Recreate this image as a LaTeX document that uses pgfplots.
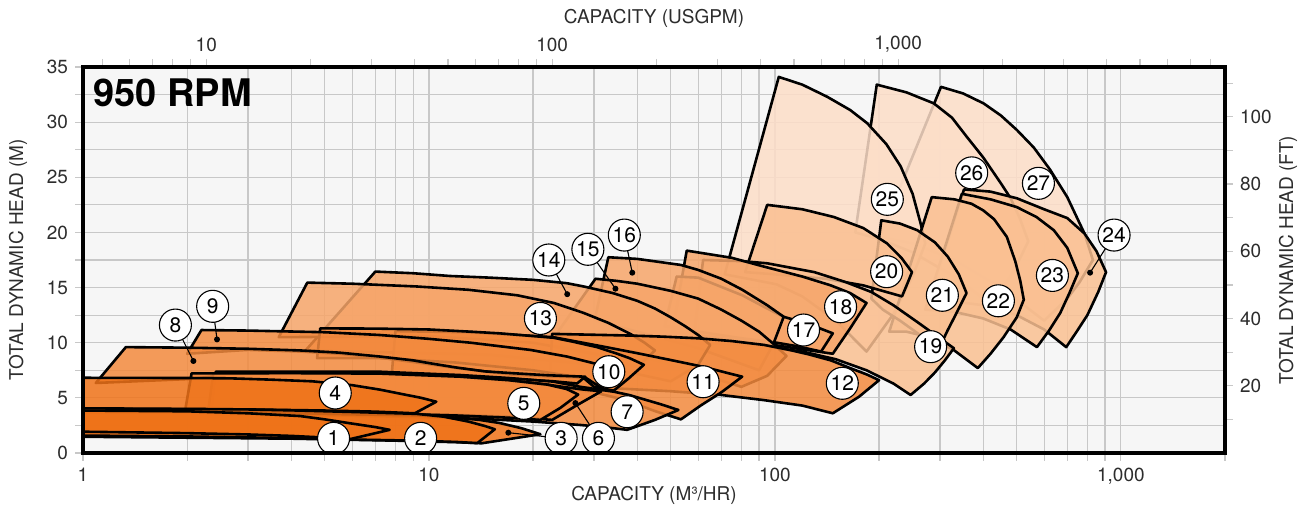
\documentclass[border=0pt]{standalone}
\usepackage{fontspec}
\setmainfont{TeX Gyre Heros}
\usepackage{pgfplots}
\pgfplotsset{compat=1.18}

\definecolor{cdark}{RGB}{239,115,25}
\definecolor{cmed}{RGB}{243,138,62}
\definecolor{clight}{RGB}{246,165,105}
\definecolor{clighter}{RGB}{250,192,146}
\definecolor{clightest}{RGB}{253,222,200}
\definecolor{bgc}{RGB}{246,246,246}
\definecolor{gridc}{RGB}{200,200,200}
\definecolor{txtc}{RGB}{45,45,45}

\begin{document}
\begin{tikzpicture}[
  pump/.style={draw=black, line width=1.3pt, line join=round, fill opacity=0.85},
  lbl/.style={circle, draw=black, line width=0.55pt, fill=white, inner sep=0pt,
    minimum size=16pt, font=\fontsize{10.5}{10.5}\selectfont},
  lead/.style={black, line width=0.55pt, mark=*, mark size=1.2pt, mark indices={2},
    mark options={solid, fill=black}},
]
\begin{axis}[
  name=main,
  scale only axis, width=571pt, height=193pt,
  xmode=log, xmin=1, xmax=2000, ymin=0, ymax=35,
  axis background/.style={fill=bgc},
  xtick={1,10,100,1000}, xticklabels={1,10,100,{1,000}},
  minor xtick={2,3,4,5,6,7,8,9,20,30,40,50,60,70,80,90,200,300,400,500,600,700,800,900,2000},
  ytick={0,5,...,35}, minor ytick={2.5,7.5,...,32.5},
  grid=both,
  major grid style={gridc, line width=0.6pt},
  minor grid style={gridc, line width=0.6pt},
  tick align=outside, xtick pos=left, ytick pos=left,
  major tick length=4pt, minor tick length=4pt,
  tick style={gridc, line width=0.6pt},
  axis line style={line width=1.8pt},
  ticklabel style={font=\fontsize{9.5}{10}\selectfont, text=txtc},
  /pgf/number format/assume math mode=true,
]
% ---- pump ranges, back to front ----
\addplot[pump, fill=clightest] coordinates {(201,19.6) (302,33.2) (350,32.6) (401,31.7) (450,30.6) (500,29.3) (560,27.7) (624,25.7) (700,23.2) (785,19.9) (830,17.5) (760,15.5) (700,14.0) (600,12.0) (450,15.0) (330,17.5) (250,19.0)} -- cycle;
\addplot[pump, fill=clightest] coordinates {(170.7,20) (197,33.4) (240,32.7) (288,31.7) (325,30.4) (358,28.7) (400,26.8) (450,24.45) (480,23.1) (510,21.3) (540,19.2) (510,17.6) (480,16.0) (420,13.5) (330,16.0) (250,18.2) (200,19.4)} -- cycle;
\addplot[pump, fill=clightest] coordinates {(71.6,16.2) (102.6,34.1) (120,33.4) (141.6,32.3) (165,31.1) (184.9,29.9) (210,28.0) (230.8,26.0) (250,23.5) (263.8,20.8) (272,19.0) (250,16.0) (220,12.6) (184,9.2) (150,12.0) (120,14.2) (101,15.3)} -- cycle;
\addplot[pump, fill=clighter] coordinates {(280,14) (352,23.9) (420,23.7) (500,23.1) (600,22.1) (700,21.3) (785,19.9) (850,18.3) (906,16.4) (860,14.6) (800,12.5) (745,11.0) (695,9.6) (600,11.2) (500,12.5) (400,13.4)} -- cycle;
\addplot[pump, fill=clighter] coordinates {(272,13) (347,23.5) (420,23.0) (500,22.3) (570,21.4) (640,20.2) (700,18.6) (751,16.3) (710,14.5) (668,12.7) (620,11.1) (572,9.6) (480,11.2) (400,12.2) (330,12.8)} -- cycle;
\addplot[pump, fill=clighter] coordinates {(214,11) (284,23.2) (330,23.0) (370,22.6) (400,22.0) (430,21.2) (468,19.6) (495,17.4) (512,15.6) (524,13.9) (500,12.3) (458,10.5) (420,9.0) (386,7.7) (330,9.3) (280,10.5) (240,11.0)} -- cycle;
\addplot[pump, fill=clighter] coordinates {(190,14) (203,21.1) (230,20.8) (258,20.2) (290,19.1) (316,17.8) (340,16.2) (358,14.5) (335,12.7) (316,11.15) (295,9.2) (260,10.8) (230,12.0) (205,13.0)} -- cycle;
\addplot[pump, fill=clighter] coordinates {(82,16.4) (95,22.5) (120,22.1) (148,21.4) (180,20.4) (211,19.0) (232,17.7) (249,16.4) (241,15.3) (233,14.2) (210,14.6) (180,15.2) (140,15.8) (100,16.2)} -- cycle;
\addplot[pump, fill=clighter] coordinates {(58,10.0) (62,17.5) (80,17.4) (95,17.2) (130,16.4) (160,15.5) (190,14.6) (220,13.4) (260,11.8) (300,10.4) (329,9.5) (310,8.4) (290,7.3) (270,6.3) (246.7,5.26) (220,6.3) (184,7.5) (150,8.5) (120,9.2) (90,9.7)} -- cycle;
\addplot[pump, fill=clight] coordinates {(50.5,11) (55.6,18.35) (75,17.7) (93,16.9) (120,16.0) (145,15.2) (165,14.5) (184,13.6) (165,11.3) (147,9.0) (120,9.4) (99,9.8) (70,10.4)} -- cycle;
\addplot[pump, fill=clight] coordinates {(48,11.5) (52,16.0) (60,15.9) (80.5,14.3) (95,13.1) (106,12.35) (125,11.7) (147,10.85) (136,9.2) (115,9.7) (99,10.05) (80,10.4) (60,11.0)} -- cycle;
\addplot[pump, fill=clight] coordinates {(30.1,12) (33,17.75) (40,17.6) (53.5,17.05) (60,16.6) (70,15.8) (80.5,14.8) (95,13.4) (106,12.35) (99,9.9) (90,7.5) (60,9.5) (40,11.0)} -- cycle;
\addplot[pump, fill=clight] coordinates {(23.6,11) (30.3,15.8) (35,15.6) (40,15.35) (50,14.7) (60,14.0) (70,13.0) (80,12.0) (90,11.0) (99,9.9) (108,8.8) (95,7.0) (80,6.0) (50,8.0)} -- cycle;
\addplot[pump, fill=clight] coordinates {(4.4,9.3) (7.0,16.45) (9,16.3) (11.5,16.05) (15,15.9) (20,15.7) (25,15.4) (28,15.1) (34,14.5) (40,13.8) (45,13.1) (50,12.3) (55,11.5) (60,10.7) (65,9.8) (60,8.0) (50,6.5) (30,8.0) (15,8.9)} -- cycle;
\addplot[pump, fill=clight] coordinates {(3.68,10.5) (4.45,15.45) (6,15.35) (9.2,15.1) (13,14.8) (18,14.3) (23,13.6) (28,12.7) (33,11.8) (38.2,10.8) (42,10.0) (45,9.3) (40,7.8) (30,9.0) (20,10.0) (10,10.6)} -- cycle;
\addplot[pump, fill=cmed] coordinates {(22.3,6.0) (22.7,10.8) (30,10.72) (38,10.65) (47.5,10.55) (60,10.4) (75,10.15) (93,9.8) (110,9.35) (125,8.95) (145,8.4) (165,7.7) (185,7.1) (200,6.6) (175,5.1) (147,3.6) (120,4.3) (92.6,4.8) (70,5.26) (50,5.6) (35,5.85)} -- cycle;
\addplot[pump, fill=cmed] coordinates {(7.8,7.0) (8.0,11.05) (13.2,10.95) (22.9,10.5) (32,9.64) (40,9.05) (50,8.43) (62,7.82) (72,7.3) (80.4,6.92) (70,5.5) (61,4.3) (53.5,3.05) (45,3.8) (37,4.8) (30,5.5) (20,6.2) (12,6.8)} -- cycle;
\addplot[pump, fill=cmed] coordinates {(4.75,8.6) (4.85,11.3) (7,11.28) (10,11.2) (13.2,11.0) (16,10.85) (22.9,10.45) (26,10.1) (30.6,9.6) (35,9.0) (38,8.6) (41.8,8.0) (37.8,6.77) (34.2,5.65) (30,6.0) (28,6.8) (20,7.5) (12,8.2) (7.2,8.6)} -- cycle;
\addplot[pump, fill=cmed] coordinates {(2.0,9.0) (2.2,11.15) (3,11.1) (5,10.95) (7.2,10.7) (10,10.35) (13.2,10.0) (19.7,9.34) (25,8.75) (30,8.13) (33,7.7) (35.5,7.3) (33.5,6.5) (31.5,5.9) (28.3,6.85) (22,6.95) (17.5,7.1) (12,7.7) (9,8.25) (7.2,8.65) (5.5,9.0) (4.24,9.2) (3,9.35)} -- cycle;
\addplot[pump, fill=cmed] coordinates {(1.089,6.35) (1.33,9.6) (2,9.55) (3,9.45) (4.24,9.3) (5.5,9.1) (7.2,8.75) (9,8.4) (10.1,8.13) (12,7.75) (14.5,7.4) (17.6,7.23) (22,7.05) (28.3,6.92) (26.8,6.3) (22.9,6.5) (12.3,7.0) (7.2,7.25) (3,7.25) (2.0,6.7)} -- cycle;
\addplot[pump, fill=cmed] coordinates {(2.35,3.5) (2.42,7.37) (5,7.38) (7.2,7.37) (12.3,7.07) (17,6.8) (22.9,6.47) (27.4,6.0) (31,5.75) (34.2,5.56) (38,5.25) (42,4.85) (47,4.4) (52.6,3.9) (45,3.0) (37.4,2.1) (32,2.35) (27.4,2.54) (20,2.85) (14,3.1) (8,3.3) (4,3.45)} -- cycle;
\addplot[pump, fill=cmed] coordinates {(2.3,3.75) (2.38,7.22) (5,7.23) (7.2,7.2) (12.3,6.92) (17,6.6) (22,6.2) (25,5.95) (28,5.75) (31.5,5.6) (27,4.4) (22.7,3.0) (18,3.25) (12,3.45) (7,3.6) (4,3.7)} -- cycle;
\addplot[pump, fill=cmed] coordinates {(1.97,3.7) (2.06,7.22) (4,7.24) (7.2,7.2) (12.3,6.92) (17,6.6) (22,6.2) (25,5.8) (27,5.3) (24,4.1) (21,3.0) (17,3.2) (12,3.4) (8,3.55) (5,3.65) (3,3.7)} -- cycle;
\addplot[pump, fill=cdark] coordinates {(0.8,4.0) (0.8,6.82) (1,6.82) (2,6.8) (2.66,6.77) (3.5,6.65) (4.6,6.5) (6,6.15) (7.2,5.75) (8.5,5.3) (9.5,5.0) (10.5,4.65) (9.1,3.6) (7,3.75) (5,3.85) (3,3.95) (1,4.0)} -- cycle;
\addplot[pump, fill=cdark] coordinates {(0.8,1.5) (0.8,3.7) (2,3.68) (4,3.6) (6,3.5) (9.2,3.42) (12,3.2) (14,3.0) (16,2.72) (18.5,2.25) (21,1.7) (14.2,0.88) (12,0.98) (8,1.12) (4,1.3)} -- cycle;
\addplot[pump, fill=cdark] coordinates {(0.8,1.6) (0.8,4.05) (1,4.05) (2,4.0) (3,3.95) (4.2,3.85) (6,3.72) (9.2,3.55) (11,3.3) (13,2.85) (14.5,2.45) (15.5,2.15) (13.8,0.9) (12,1.0) (10,1.08) (8,1.15) (6,1.22) (4,1.35) (2,1.5) (1,1.58)} -- cycle;
\addplot[pump, fill=cdark] coordinates {(0.8,1.95) (0.8,3.85) (1,3.85) (2,3.78) (3,3.6) (4.24,3.35) (5,3.05) (5.9,2.7) (7,2.35) (7.7,2.1) (5.9,1.25) (5,1.4) (4,1.55) (3,1.68) (2,1.8) (1,1.93)} -- cycle;

% ---- leaders ----
\addplot[lead] coordinates {(24.1,1.33) (16.96,1.84)};
\addplot[lead] coordinates {(30.9,1.33) (26.5,4.53)};
\addplot[lead] coordinates {(1.85,11.6) (2.085,8.34)};
\addplot[lead] coordinates {(2.37,13.3) (2.44,10.3)};
\addplot[lead] coordinates {(22.2,17.5) (25.1,14.4)};
\addplot[lead] coordinates {(28.8,18.47) (34.6,14.9)};
\addplot[lead] coordinates {(36.7,19.76) (38.7,16.35)};
\addplot[lead] coordinates {(955.6,19.76) (814.7,16.35)};

% ---- numbers ----
\node[lbl] at (axis cs:5.3,1.33) {1};
\node[lbl] at (axis cs:9.46,1.33) {2};
\node[lbl] at (axis cs:24.1,1.33) {3};
\node[lbl] at (axis cs:5.36,5.44) {4};
\node[lbl] at (axis cs:18.8,4.5) {5};
\node[lbl] at (axis cs:30.9,1.33) {6};
\node[lbl] at (axis cs:37.4,3.74) {7};
\node[lbl] at (axis cs:1.85,11.6) {8};
\node[lbl] at (axis cs:2.37,13.3) {9};
\node[lbl] at (axis cs:33.1,7.37) {10};
\node[lbl] at (axis cs:62,6.46) {11};
\node[lbl] at (axis cs:156.6,6.32) {12};
\node[lbl] at (axis cs:21,12.2) {13};
\node[lbl] at (axis cs:22.2,17.5) {14};
\node[lbl] at (axis cs:28.8,18.47) {15};
\node[lbl] at (axis cs:36.7,19.76) {16};
\node[lbl] at (axis cs:121,11.15) {17};
\node[lbl] at (axis cs:154.8,13.26) {18};
\node[lbl] at (axis cs:281.9,9.64) {19};
\node[lbl] at (axis cs:210.3,16.44) {20};
\node[lbl] at (axis cs:304.8,14.3) {21};
\node[lbl] at (axis cs:442.6,13.8) {22};
\node[lbl] at (axis cs:634,16.1) {23};
\node[lbl] at (axis cs:955.6,19.76) {24};
\node[lbl] at (axis cs:211.3,23.0) {25};
\node[lbl] at (axis cs:370.5,25.4) {26};
\node[lbl] at (axis cs:577.7,24.45) {27};
\end{axis}

% secondary scales: USGPM on top, feet on the right
\begin{axis}[
  scale only axis, width=571pt, height=193pt,
  xmode=log, xmin=4.402868, xmax=8805.736, ymin=0, ymax=114.8294,
  xtick={10,100,1000}, xticklabels={10,100,{1,000}},
  minor xtick={5,6,7,8,9,20,30,40,50,60,70,80,90,200,300,400,500,600,700,800,900,2000,3000,4000,5000,6000,7000,8000},
  ytick={20,40,60,80,100}, minor ytick={10,30,50,70,90,110},
  xtick pos=right, ytick pos=right, xticklabel pos=right, yticklabel pos=right,
  tick align=outside,
  major tick length=4pt, minor tick length=4pt,
  tick style={gridc, line width=0.6pt},
  axis line style={line width=1.8pt, black},
  ticklabel style={font=\fontsize{9.5}{10}\selectfont, text=txtc},
  /pgf/number format/assume math mode=true,
]
\addplot[draw=none] coordinates {(10,10)};
\end{axis}

\node[font=\fontsize{9.5}{10}\selectfont, text=txtc] at ([yshift=-21pt]main.south) {CAPACITY (M³/HR)};
\node[font=\fontsize{9.5}{10}\selectfont, text=txtc] at ([yshift=24.5pt]main.north) {CAPACITY (USGPM)};
\node[font=\fontsize{9.5}{10}\selectfont, text=txtc, rotate=90] at ([xshift=-32.5pt]main.west) {TOTAL DYNAMIC HEAD (M)};
\node[font=\fontsize{9.5}{10}\selectfont, text=txtc, rotate=90] at ([xshift=31.5pt]main.east) {TOTAL DYNAMIC HEAD (FT)};
\node[anchor=north west, inner sep=0pt, font=\fontsize{19}{19}\selectfont\bfseries] at ([xshift=5pt,yshift=-5.5pt]main.north west) {950 RPM};

\pgfresetboundingbox
\path[use as bounding box] ([shift={(-41.5pt,-27.5pt)}]main.south west) rectangle ([shift={(40pt,33.5pt)}]main.north east);
\end{tikzpicture}
\end{document}
